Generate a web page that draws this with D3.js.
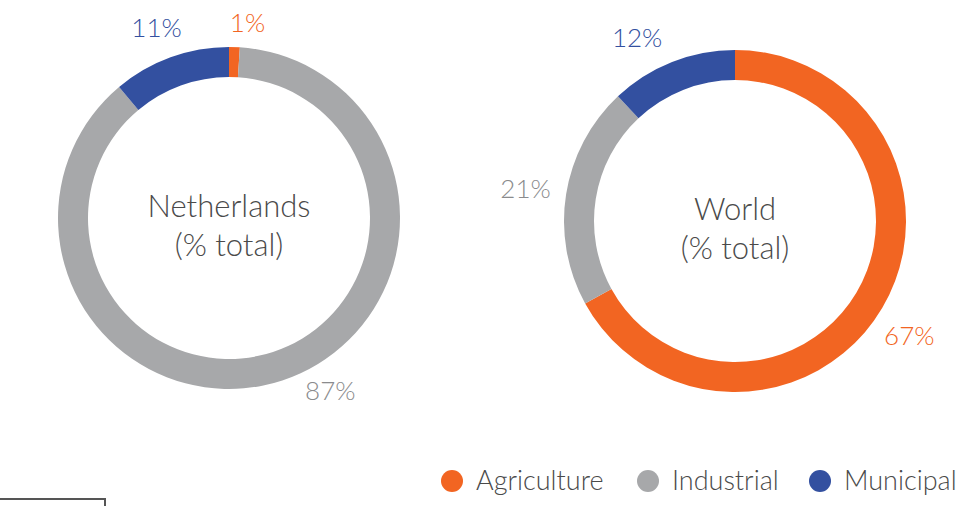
<!DOCTYPE html>
<html>
<head>
<meta charset="utf-8">
<script src="https://cdn.jsdelivr.net/npm/d3@7"></script>
<style>
	body { margin: 0; background: #fff; }
	svg { display: block; font-family: Lato, "Open Sans", sans-serif; font-weight: 300; }
</style>
</head>
<body>
<div id="chart"></div>
<script>
// categories and shares (% of total water withdrawal)
var categories = ["Agriculture", "Industrial", "Municipal"];
var netherlandsValues = [1, 87, 11];
var worldValues = [67, 21, 12];
var chartTitles = ["Netherlands", "World"];
var subTitle = "(% total)";

var colors = ["#f26522", "#a7a8aa", "#3350a0"];
var labelColors = ["#f26522", "#8a8b8d", "#3350a0"];

var svg = d3.select("#chart").append("svg")
	.attr("width", 974)
	.attr("height", 506);

var outerR = 171, innerR = 141, labelR = 206;

var color = d3.scaleOrdinal().domain(categories).range(colors);
var labelColor = d3.scaleOrdinal().domain(categories).range(labelColors);

var pie = d3.pie().sort(null).value(function(d){ return d.value; });
var arc = d3.arc().innerRadius(innerR).outerRadius(outerR);

function translate(x, y)
{
	return "translate(" + x + "," + y + ")";
}

// label nudges (px) where the original layout moved a label off its centroid
var nudges = {
	"Netherlands": [[12, 11], [37, -23], [-2, 3]],
	"World": [[-3, 10], [-6, 0], [-22, 8]]
};

function makeDonut(cx, cy, title, values)
{
	var data = categories.map(function(c, i){ return {key: c, value: values[i]}; });
	var g = svg.append("g").attr("transform", translate(cx, cy));

	g.selectAll("path")
		.data(pie(data))
		.enter().append("path")
			.attr("d", arc)
			.attr("fill", function(d){ return color(d.data.key); });

	var labelArc = d3.arc().innerRadius(labelR).outerRadius(labelR);
	g.selectAll("text.lbl")
		.data(pie(data))
		.enter().append("text")
			.attr("class", "lbl")
			.attr("transform", function(d, i){
				var c = labelArc.centroid(d), n = nudges[title][i];
				return translate(c[0] + n[0], c[1] + n[1]);
			})
			.attr("text-anchor", "middle")
			.attr("dy", "0.36em")
			.attr("font-size", 26)
			.attr("fill", function(d){ return labelColor(d.data.key); })
			.text(function(d){ return d.data.value + "%"; });

	g.append("text")
		.attr("text-anchor", "middle")
		.attr("y", -1)
		.attr("font-size", 31)
		.attr("fill", "#4a4a4a")
		.text(title);
	g.append("text")
		.attr("text-anchor", "middle")
		.attr("y", 38)
		.attr("font-size", 31)
		.attr("fill", "#4a4a4a")
		.text(subTitle);
}

makeDonut(229, 218, chartTitles[0], netherlandsValues);
makeDonut(735, 221, chartTitles[1], worldValues);

// legend
var legendX = [452, 648, 820];
var legend = svg.append("g")
	.selectAll("g")
	.data(categories)
	.enter().append("g")
		.attr("transform", function(d, i){ return translate(legendX[i], 481); });

legend.append("circle")
	.attr("r", 11)
	.attr("fill", color);

legend.append("text")
	.attr("x", 24)
	.attr("dy", "0.35em")
	.attr("font-size", 27)
	.attr("fill", "#4a4a4a")
	.text(function(d){ return d; });

// cropped frame edge at bottom left
svg.append("path")
	.attr("d", "M0,499H105V506")
	.attr("fill", "none")
	.attr("stroke", "#555")
	.attr("stroke-width", 2);
</script>
</body>
</html>
